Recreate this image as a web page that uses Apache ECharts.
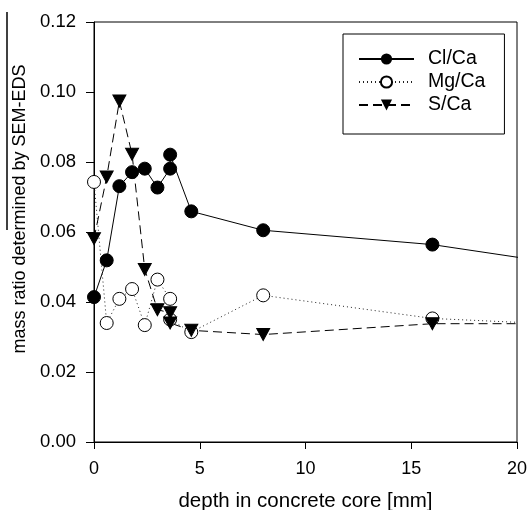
<!DOCTYPE html>
<html>
<head>
<meta charset="utf-8">
<script src="https://cdn.jsdelivr.net/npm/echarts@6/dist/echarts.min.js"></script>
<style>html,body{margin:0;padding:0;background:#fff}#c{width:528px;height:510px}</style>
</head>
<body>
<div id="c"></div>
<script>
// depth in concrete core [mm]
var depth = [0, 0.6, 1.2, 1.8, 2.4, 3.0, 3.6, 3.6, 4.6, 8, 16, 24];
var clCa = [0.0414, 0.0519, 0.0731, 0.0771, 0.0781, 0.0727, 0.0781, 0.0821, 0.0659, 0.0605, 0.0564, 0.0492];
var mgCa = [0.0743, 0.0340, 0.0409, 0.0437, 0.0334, 0.0464, 0.0409, 0.0350, 0.0314, 0.0419, 0.0353, 0.0331];
var sCa  = [0.0581, 0.0757, 0.0974, 0.0822, 0.0493, 0.0378, 0.0369, 0.0340, 0.0319, 0.0307, 0.0338, 0.0338];
var xTicks = [0, 5, 10, 15, 20];
var yTicks = [0, 0.02, 0.04, 0.06, 0.08, 0.10, 0.12];

function pairs(ys){ return depth.map(function(d,i){ return [d, ys[i]]; }); }

var font = '"Liberation Sans", Arial, sans-serif';
var chart = echarts.init(document.getElementById('c'), null, {renderer:'canvas'});
chart.setOption({
  animation: false,
  backgroundColor: '#fff',
  grid: {left: 94, right: 11, top: 22, bottom: 68, show: true, borderColor: '#000', borderWidth: 1,
    backgroundColor: 'transparent', containLabel: false, outerBoundsMode: 'none'},
  xAxis: {
    type: 'value', min: xTicks[0], max: xTicks[xTicks.length-1], interval: 5,
    axisLine: {show: true, onZero: false, lineStyle: {color: '#000', width: 1}},
    axisTick: {show: true, inside: false, length: 7, lineStyle: {color: '#000'}},
    axisLabel: {color: '#000', fontSize: 18, fontFamily: font, margin: 18},
    splitLine: {show: false},
    name: 'depth in concrete core [mm]', nameLocation: 'middle', nameGap: 49,
    nameTextStyle: {color: '#000', fontSize: 20.5, fontFamily: font}
  },
  yAxis: {
    type: 'value', min: yTicks[0], max: yTicks[yTicks.length-1], interval: 0.02,
    axisLine: {show: true, onZero: false, lineStyle: {color: '#000', width: 1}},
    axisTick: {show: true, inside: false, length: 8, lineStyle: {color: '#000'}},
    axisLabel: {color: '#000', fontSize: 18.5, fontFamily: font, margin: 18,
      formatter: function(v){ return v.toFixed(2); }},
    splitLine: {show: false}
  },
  legend: {
    orient: 'vertical', left: 343, top: 34,
    borderColor: '#000', borderWidth: 1, padding: [15, 19, 19, 15],
    itemWidth: 55, itemHeight: 14, itemGap: 3,
    textStyle: {color: '#000', fontSize: 19.5, fontFamily: font, padding: [0,0,0,9]},
    data: ['Cl/Ca', 'Mg/Ca', 'S/Ca']
  },
  graphic: [
    {type: 'line', shape: {x1: 7, y1: 12, x2: 7, y2: 230}, style: {stroke: '#000', lineWidth: 1.5}},
    {type: 'text', x: 20, y: 209, rotation: Math.PI/2,
      style: {text: 'mass ratio determined by SEM-EDS', fill: '#000', font: '18px ' + font,
        textAlign: 'center', textVerticalAlign: 'middle'}}
  ],
  series: [
    {name: 'Cl/Ca', type: 'line', data: pairs(clCa), clip: true,
      symbol: 'circle', symbolSize: 13,
      itemStyle: {color: '#000', borderColor: '#000'},
      lineStyle: {color: '#000', width: 1, type: 'solid'}},
    {name: 'Mg/Ca', type: 'line', data: pairs(mgCa), clip: true,
      symbol: 'circle', symbolSize: 13,
      itemStyle: {color: '#fff', borderColor: '#000', borderWidth: 1},
      lineStyle: {color: '#222', width: 1, type: [1, 3]}},
    {name: 'S/Ca', type: 'line', data: pairs(sCa), clip: true,
      symbol: 'triangle', symbolRotate: 180, symbolSize: [13, 12],
      itemStyle: {color: '#000', borderColor: '#000'},
      lineStyle: {color: '#000', width: 1, type: [9, 5]}}
  ]
});
</script>
</body>
</html>
